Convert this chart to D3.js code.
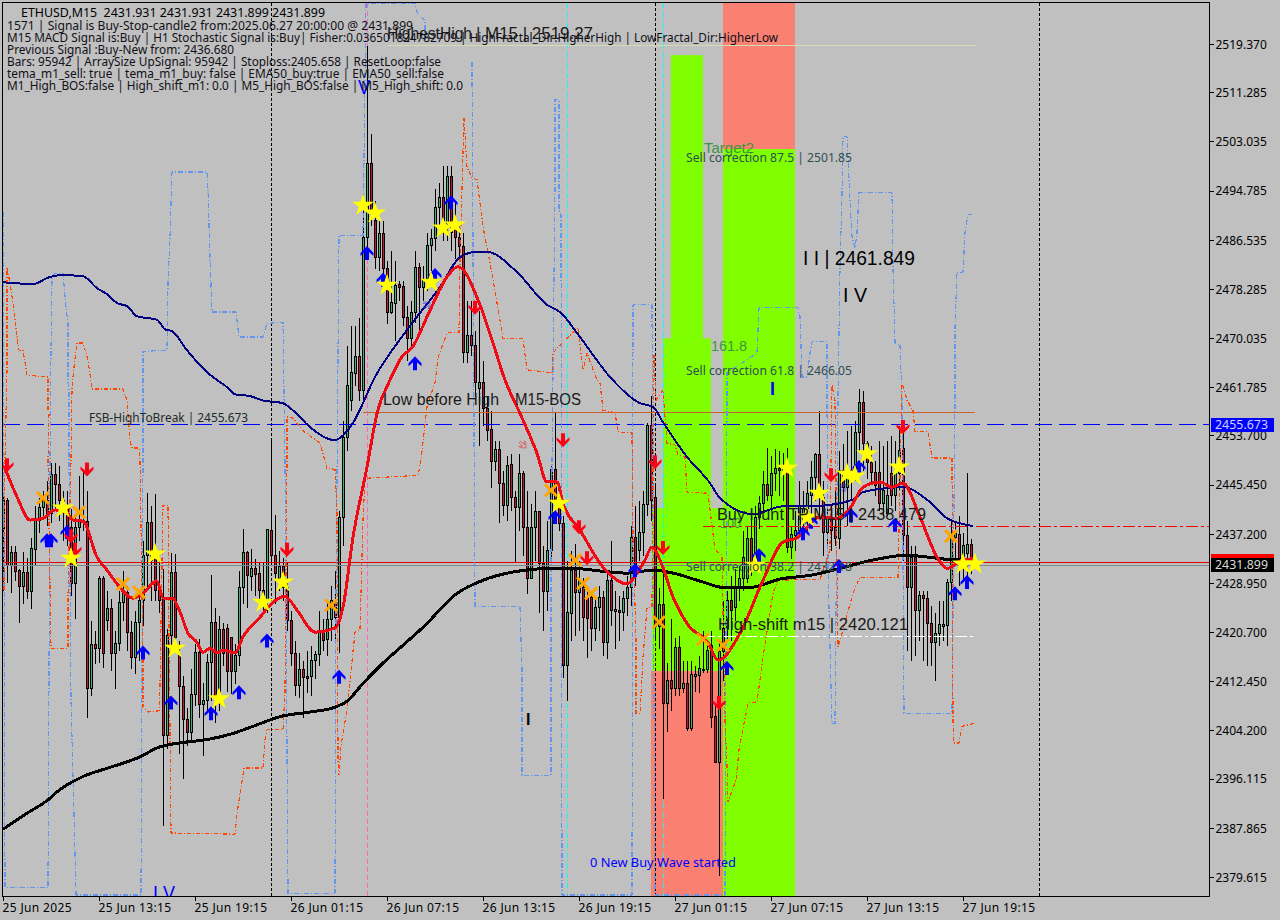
<!DOCTYPE html>
<html>
<head>
<meta charset="utf-8">
<script src="https://cdnjs.cloudflare.com/ajax/libs/d3/7.8.5/d3.min.js"></script>
<style>
html,body{margin:0;padding:0;background:#c0c0c0;overflow:hidden}
svg{display:block}
text{font-family:"Noto Sans",sans-serif;fill:#000;white-space:pre}
</style>
</head>
<body>
<svg id="chart" width="1280" height="920"></svg>
<script>
// ---- data ----
const opens=[2438.2,2442.9,2431.9,2434.1,2431.1,2428.4,2430.8,2427.6,2434.6,2439.5,
2441.7,2442.9,2440.7,2447.2,2445.5,2442.9,2442.0,2438.3,2428.9,2438.3,
2439.5,2439.3,2411.3,2418.7,2418.0,2429.8,2422.7,2424.7,2417.2,2418.8,
2425.7,2427.4,2420.7,2416.5,2422.4,2426.1,2433.6,2439.2,2433.6,2427.7,
2426.4,2403.4,2420.2,2430.8,2416.8,2411.6,2406.1,2403.9,2410.3,2417.3,
2408.6,2409.3,2415.7,2422.4,2409.8,2421.2,2421.4,2419.9,2414.2,2416.8,
2428.2,2434.1,2430.1,2431.4,2430.6,2427.7,2426.1,2437.8,2433.6,2429.8,
2431.8,2428.2,2422.7,2417.2,2411.8,2414.5,2413.3,2413.3,2416.0,2417.0,
2421.0,2419.5,2422.9,2426.1,2423.2,2440.0,2453.4,2459.6,2464.2,2467.0,
2461.3,2487.0,2499.4,2489.8,2483.6,2487.7,2481.8,2474.4,2475.9,2479.1,
2478.8,2473.6,2470.0,2474.4,2482.0,2478.6,2480.1,2485.7,2486.8,2492.0,
2493.7,2489.3,2497.2,2489.3,2487.0,2485.5,2467.7,2470.5,2468.9,2461.7,
2462.7,2458.3,2454.8,2449.4,2451.4,2445.7,2442.0,2448.9,2443.4,2441.7,
2447.4,2438.3,2429.8,2438.3,2441.0,2432.3,2427.6,2434.5,2448.0,2442.5,
2439.0,2415.2,2423.9,2431.1,2427.4,2428.2,2426.6,2426.6,2421.4,2424.9,
2426.6,2419.0,2429.4,2424.2,2424.4,2424.1,2426.4,2428.2,2436.6,2434.5,
2437.5,2442.2,2455.4,2443.4,2421.7,2425.4,2408.8,2412.6,2411.3,2418.2,
2411.3,2412.1,2404.6,2413.3,2413.5,2414.3,2414.5,2418.5,2406.6,2398.9,
2417.5,2421.4,2426.1,2424.9,2428.2,2429.8,2429.8,2436.5,2432.8,2440.0,
2442.3,2445.5,2443.7,2447.4,2448.2,2448.2,2447.9,2435.0,2437.0,2437.8,
2439.5,2441.5,2443.7,2446.7,2450.6,2443.4,2437.5,2440.0,2438.3,2436.5,
2447.9,2445.0,2447.9,2447.9,2454.3,2459.3,2452.4,2449.2,2447.5,2447.5,
2442.3,2440.7,2447.4,2443.7,2447.4,2451.6,2437.0,2428.2,2433.3,2424.4,
2426.9,2426.4,2422.2,2419.0,2420.5,2421.7,2421.9,2429.1,2436.6,2437.1,
2433.1,2434.0,2435.5,2431.931];
const closes=[2442.9,2431.9,2434.1,2430.9,2428.4,2430.8,2427.6,2434.8,2439.5,2441.7,
2442.9,2440.7,2447.2,2445.5,2442.9,2441.2,2438.3,2428.9,2438.3,2439.5,
2439.2,2411.3,2418.7,2418.0,2429.8,2417.2,2424.7,2417.2,2418.8,2425.7,
2427.4,2420.7,2416.5,2422.4,2426.1,2433.6,2439.2,2432.8,2427.7,2426.1,
2403.4,2420.2,2430.8,2419.9,2411.6,2406.1,2403.9,2410.3,2417.3,2408.6,
2409.3,2415.7,2422.4,2409.8,2421.2,2417.2,2414.2,2414.2,2416.8,2428.2,
2434.1,2430.3,2431.4,2430.4,2427.7,2426.1,2438.0,2433.6,2430.6,2431.8,
2428.2,2422.7,2417.2,2411.8,2414.5,2413.2,2413.0,2416.0,2417.0,2421.0,
2419.3,2422.9,2426.1,2423.2,2440.0,2453.4,2462.1,2464.3,2467.0,2461.3,
2487.0,2499.4,2491.0,2483.6,2487.7,2481.8,2474.4,2476.1,2478.9,2478.6,
2473.6,2470.0,2474.4,2482.0,2478.6,2479.8,2485.7,2486.8,2492.0,2493.7,
2489.3,2497.2,2487.8,2487.0,2485.5,2467.7,2470.5,2468.9,2462.7,2462.7,
2458.3,2454.6,2449.4,2451.4,2445.7,2442.0,2448.7,2443.4,2441.7,2447.4,
2438.3,2429.8,2438.3,2441.0,2432.3,2427.6,2434.5,2448.0,2442.5,2439.0,
2415.2,2424.1,2431.1,2427.4,2429.4,2423.2,2423.1,2421.4,2424.9,2426.6,
2419.0,2429.4,2424.4,2424.6,2424.1,2426.4,2428.2,2436.6,2431.4,2437.5,
2442.2,2455.4,2442.9,2421.7,2425.4,2408.8,2412.6,2411.3,2418.2,2411.3,
2412.1,2404.6,2413.6,2413.6,2414.7,2414.5,2417.7,2406.4,2398.9,2417.5,
2421.4,2426.1,2424.4,2428.2,2429.8,2433.3,2436.5,2432.4,2440.0,2442.3,
2445.5,2443.7,2447.4,2448.2,2447.9,2447.9,2435.0,2437.2,2437.8,2442.0,
2441.5,2444.0,2446.7,2450.6,2443.4,2437.5,2440.0,2437.8,2436.5,2447.9,
2445.0,2447.5,2446.2,2454.3,2459.3,2452.4,2449.2,2447.5,2445.4,2442.3,
2444.5,2443.7,2443.7,2447.5,2451.2,2437.0,2428.2,2433.3,2424.4,2426.9,
2426.4,2422.2,2419.0,2420.5,2422.0,2422.0,2429.1,2436.6,2437.3,2433.1,
2435.3,2435.5,2433.0,2431.899];
const highs=[2443.7,2443.4,2435.3,2435.3,2431.4,2434.3,2433.3,2436.6,2442.0,2443.4,
2444.5,2446.2,2449.2,2449.2,2448.7,2444.5,2444.5,2441.5,2440.3,2447.0,
2447.9,2444.5,2422.7,2421.0,2430.3,2430.3,2427.7,2426.4,2421.0,2427.7,
2431.1,2428.6,2422.7,2424.4,2427.7,2436.1,2444.2,2442.0,2444.0,2432.8,
2431.4,2421.4,2434.1,2434.0,2419.3,2413.5,2408.1,2414.7,2418.8,2419.7,
2412.3,2417.2,2430.4,2424.9,2423.5,2422.4,2422.2,2419.9,2418.8,2431.1,
2438.1,2434.5,2434.8,2433.1,2432.4,2432.4,2438.1,2452.9,2440.5,2434.5,
2433.3,2432.4,2424.4,2419.3,2417.3,2416.0,2417.7,2418.5,2417.7,2424.4,
2423.1,2426.1,2428.6,2431.1,2441.2,2456.3,2468.9,2472.2,2472.2,2473.6,
2491.5,2519.2,2504.4,2493.2,2489.8,2489.8,2483.1,2484.8,2483.1,2479.8,
2479.8,2475.6,2476.4,2484.8,2482.8,2482.3,2487.8,2488.5,2495.2,2496.2,
2499.1,2499.1,2499.1,2493.2,2489.3,2487.8,2476.4,2476.4,2471.4,2474.7,
2466.3,2460.5,2457.9,2452.9,2452.9,2447.9,2450.4,2450.7,2444.5,2450.7,
2447.9,2444.5,2442.3,2444.5,2441.2,2435.3,2439.5,2448.7,2457.6,2443.4,
2440.3,2432.8,2434.5,2435.6,2432.8,2429.9,2428.6,2427.7,2426.9,2428.6,
2427.7,2431.1,2436.1,2427.7,2426.9,2427.7,2430.3,2438.7,2442.0,2442.9,
2444.5,2455.9,2460.5,2445.4,2428.2,2431.1,2415.7,2423.1,2419.9,2420.2,
2416.0,2416.0,2416.0,2415.2,2416.8,2421.0,2419.3,2421.0,2408.4,2419.3,
2426.1,2427.7,2430.3,2431.4,2431.9,2437.8,2438.7,2441.2,2442.0,2443.7,
2447.9,2451.7,2450.4,2451.6,2451.2,2450.9,2451.7,2438.7,2441.2,2446.2,
2444.5,2446.2,2449.6,2450.9,2457.9,2446.2,2442.0,2442.0,2444.5,2451.2,
2452.4,2454.6,2455.4,2456.3,2461.6,2461.3,2452.9,2452.1,2449.6,2452.9,
2452.1,2452.9,2453.8,2452.9,2455.4,2456.3,2439.5,2435.3,2435.3,2427.7,
2427.7,2427.7,2425.2,2424.1,2426.1,2426.1,2429.8,2439.5,2439.5,2440.3,
2437.5,2447.5,2436.5,2431.931];
const lows=[2427.7,2429.1,2427.4,2429.4,2422.4,2425.6,2426.4,2424.7,2431.9,2437.5,
2440.0,2438.7,2439.2,2441.2,2439.5,2436.1,2435.3,2426.9,2423.1,2436.1,
2437.8,2406.4,2410.1,2415.5,2415.7,2414.8,2421.0,2414.3,2411.3,2417.7,
2422.7,2417.7,2414.7,2413.8,2416.0,2421.9,2427.7,2426.1,2426.1,2424.1,
2388.3,2401.2,2418.5,2417.7,2400.4,2396.2,2401.7,2402.6,2408.4,2406.4,
2400.1,2407.6,2409.3,2405.6,2407.6,2415.2,2410.9,2410.5,2412.2,2415.2,
2425.6,2424.9,2427.7,2426.9,2425.6,2424.4,2424.1,2431.9,2425.6,2427.7,
2426.1,2421.0,2415.2,2410.1,2409.8,2406.4,2410.6,2410.1,2413.0,2415.2,
2417.7,2416.8,2419.3,2419.3,2417.3,2435.3,2451.2,2457.9,2462.1,2459.6,
2459.6,2484.8,2489.0,2481.8,2481.4,2479.8,2472.5,2474.2,2469.7,2476.4,
2472.2,2466.3,2468.9,2472.7,2471.4,2476.4,2478.1,2481.4,2484.8,2488.2,
2486.5,2486.5,2484.8,2483.5,2483.1,2466.0,2466.0,2467.2,2460.5,2452.1,
2455.4,2452.9,2445.0,2447.9,2439.2,2440.3,2439.5,2441.2,2432.6,2437.8,
2433.6,2427.2,2429.8,2432.8,2424.1,2421.0,2424.4,2432.8,2441.2,2437.8,
2413.2,2409.3,2419.3,2420.2,2421.0,2419.3,2416.5,2417.7,2419.3,2421.0,
2416.8,2416.3,2421.9,2418.0,2419.3,2421.0,2423.5,2425.2,2428.6,2432.8,
2433.6,2440.3,2439.5,2419.3,2418.0,2392.8,2404.1,2407.6,2410.1,2410.1,
2410.6,2404.2,2404.2,2410.9,2410.6,2414.0,2414.0,2404.8,2398.9,2379.9,
2412.6,2419.3,2419.3,2422.7,2426.1,2427.7,2429.1,2430.3,2431.9,2438.2,
2441.2,2442.9,2441.2,2444.5,2443.7,2442.9,2434.1,2433.1,2434.5,2437.0,
2437.0,2437.8,2439.5,2442.9,2440.3,2433.6,2435.3,2434.5,2435.3,2434.8,
2440.3,2438.7,2442.9,2446.2,2451.2,2447.9,2446.5,2445.9,2443.7,2441.2,
2440.3,2440.3,2442.0,2441.2,2444.5,2432.8,2417.7,2416.0,2416.8,2419.3,
2416.0,2415.2,2415.2,2412.6,2418.5,2419.3,2418.5,2426.1,2431.9,2428.6,
2429.4,2430.3,2430.6,2431.899];

// [bar, price] vertices of the indicator lines
const ema200=[[0,2387.6],[5.25,2390.0],[11.5,2392.7],[13.5,2393.9],[19.75,2396.4],[26.75,2398.0],[34,2399.7],[39,2401.4],[45.25,2402.2],[51.25,2402.7],[57.5,2403.7],[62.5,2404.9],[69.75,2406.6],[76.75,2407.3],[83,2408.1],[86,2409.1],[90,2412.1],[95,2415.5],[100,2418.5],[105,2421.5],[113.5,2427.2],[120,2429.4],[128.5,2430.9],[137.5,2431.4],[142.5,2431.4],[150,2430.9],[156,2430.6],[162.5,2431.1],[167.5,2430.6],[175,2429.1],[180,2428.2],[186.75,2428.2],[194.25,2429.6],[202.5,2430.3],[209.25,2431.4],[217.5,2432.8],[226,2433.6],[231,2433.3],[238.5,2432.8],[242.5,2432.8]];
const ema50=[[0,2479.4],[7.5,2479.1],[11.75,2480.3],[15,2480.6],[20,2480.4],[23.5,2478.4],[26,2477.4],[28.5,2475.9],[31,2475.4],[33.5,2473.7],[38.5,2473.1],[40.5,2471.5],[42.25,2471.2],[46,2468.0],[51,2464.3],[53.5,2463.0],[56,2461.8],[58,2460.6],[61.75,2460.3],[64.75,2459.6],[70,2459.1],[72.5,2457.9],[76.75,2455.1],[83,2452.9],[85,2453.7],[87.5,2455.8],[93,2463.5],[101,2471.4],[109.25,2478.6],[114.25,2483.6],[118.5,2484.5],[121,2484.5],[128.5,2481.1],[136,2475.6],[139.25,2474.4],[144.25,2470.2],[151.75,2463.5],[159.25,2459.1],[162.5,2458.5],[165,2455.9],[171,2450.1],[176.75,2445.7],[179.25,2443.2],[187.5,2440.5],[195,2441.8],[201.75,2441.8],[212.5,2442.9],[215,2444.2],[225,2445.0],[231.75,2442.5],[236,2439.8],[242.5,2438.5]];
const tema=[[0.5,2448.2],[3.5,2443.4],[6.75,2439.5],[10,2439.8],[13,2441.2],[16,2440.7],[17.5,2439.5],[20,2439.3],[23.5,2433.3],[26,2431.1],[28.75,2428.6],[32.5,2426.4],[35,2427.2],[38.5,2429.3],[40,2426.4],[42.25,2426.4],[44.25,2424.1],[46.25,2420.5],[48.5,2419.0],[50,2417.3],[51.75,2418.0],[53.5,2417.2],[55,2417.7],[58,2417.2],[60,2419.9],[64.25,2423.2],[66.75,2425.2],[70.5,2426.7],[73.5,2424.4],[78,2420.7],[83,2421.4],[85,2424.9],[87.5,2436.6],[91,2448.4],[93.5,2457.4],[96.75,2463.0],[99.75,2466.9],[102.25,2468.4],[106.75,2474.7],[111,2480.3],[113.75,2482.0],[119.25,2475.6],[122.5,2469.2],[125.5,2463.0],[129.25,2457.4],[133.5,2450.7],[136,2445.9],[138.5,2445.9],[140,2442.3],[144.25,2437.8],[150,2431.6],[156,2428.8],[158.5,2430.6],[160.5,2432.8],[162.25,2435.0],[164.25,2432.8],[167.5,2426.6],[171.25,2421.9],[176.25,2418.9],[178.75,2416.0],[184.25,2420.5],[190,2429.4],[195,2435.8],[198.5,2436.5],[204.25,2440.0],[208.5,2439.8],[211.75,2441.5],[215,2445.0],[219.25,2445.9],[222.25,2445.0],[225,2445.7],[229.25,2440.0],[233.5,2433.3],[236,2431.4],[240,2432.8],[242.5,2433.0]];
const bandBlue=[[0,2491.2],[0.5,2377.9],[11.25,2377.9],[11.75,2449.6],[12,2468.0],[12.25,2480.3],[13,2480.9],[15,2480.9],[15.75,2475.2],[16.25,2472.5],[16.25,2462.5],[16.5,2461.8],[16.5,2449.6],[17,2409.3],[18,2383.6],[18.25,2376.6],[34.5,2376.6],[35,2449.6],[35,2467.8],[41,2468.0],[41.25,2479.3],[41.75,2486.8],[42.25,2497.9],[51,2497.9],[51.25,2494.9],[51.75,2483.5],[52.25,2474.4],[58.25,2474.4],[59,2470.2],[65,2470.2],[66,2472.5],[70,2472.7],[70.25,2460.8],[70.5,2449.6],[71.25,2376.9],[83,2376.9],[83.25,2426.1],[84,2487.2],[90,2487.2],[90.5,2513.3],[90.75,2526.2],[103,2526.2],[103.75,2524.2],[105.5,2523.4],[105.5,2520.0],null,
[117.25,2516.3],[117.25,2515.0],[118,2425.0],[129.25,2425.0],[129.75,2414.3],[129.75,2396.7],[137,2396.7],[137,2432.8],[138,2495.7],[138,2510.0],[139,2510.0],[139,2491.5],[139.5,2490.7],[139.75,2376.6],[157.25,2376.6],[157.5,2475.6],[162.25,2475.6],[163,2376.6],[180.5,2376.6],[181,2459.6],[181,2464.2],[188.5,2467.5],[189,2475.1],[198.75,2475.1],[199.25,2473.6],[199.75,2463.5],[201,2463.5],[201.75,2467.5],[202.25,2469.4],[206,2469.4],[206,2460.1],[206.25,2431.1],[207.25,2405.4],[208,2405.4],[208.75,2460.1],[209.25,2481.9],[209.75,2494.4],[210,2503.8],[211,2503.8],[211.75,2493.2],[212.25,2487.0],[213,2485.1],[213.5,2487.7],[214,2494.4],[222.25,2494.4],[222.5,2481.9],[223,2469.2],[224.25,2468.9],[224.75,2459.6],[225.25,2407.1],[237.25,2407.1],[238,2459.6],[238,2471.7],[238.5,2481.1],[240,2481.1],[240.5,2487.7],[241.25,2490.7],[242.5,2490.8]];
const bandOrange=[[0.25,2427.7],[0.5,2449.6],[1,2464.8],[1,2481.9],[1.75,2479.2],[2.5,2475.9],[3.5,2470.2],[4,2468.0],[5,2468.0],[6,2463.8],[11.25,2463.5],[11.25,2457.9],[11.5,2457.6],[11.25,2449.6],[12,2418.0],[16.25,2418.0],[16.25,2426.6],[17,2449.6],[17.25,2461.8],[17.75,2465.2],[18.5,2469.2],[20,2469.2],[21.25,2466.3],[22.25,2461.5],[30,2461.5],[31,2459.6],[31.75,2452.9],[32.25,2451.6],[34,2451.6],[34.25,2449.6],[35,2416.0],[35,2408.1],[36.25,2407.3],[39,2407.5],[39.25,2411.8],[40,2442.0],[41.25,2442.0],[41.5,2421.0],[42,2387.0],[58,2386.8],[58.5,2390.3],[59.5,2394.5],[60.25,2397.9],[65,2397.9],[65.5,2402.6],[66,2404.3],[70,2404.3],[70.5,2410.5],[71,2449.6],[71,2456.8],[72.5,2456.6],[74.75,2454.6],[79.25,2452.4],[81,2448.2],[83,2448.0],[83.5,2441.2],[83.75,2399.2],[84,2396.7],[84.5,2401.7],[86,2407.6],[86.25,2409.3],[88,2420.7],[89.25,2421.0],[90,2439.5],[90.5,2446.5],[103.75,2447.0],[104.5,2449.6],[106,2458.5],[108,2462.5],[108.75,2466.7],[111,2470.9],[114,2471.0],[114.25,2483.1],[115.25,2506.9],[116,2498.7],[117.25,2496.9],[118.5,2496.6],[120,2488.7],[122.25,2480.9],[125,2470.0],[130,2469.9],[131,2464.7],[137.25,2464.2],[137.5,2467.5],[140,2469.4],[143.75,2471.7],[145,2464.7],[146,2467.5],[148.5,2463.0],[149.25,2462.5],[150,2457.9],[153,2457.5],[153.75,2454.3],[157.25,2454.1],[157.5,2436.6],[158.25,2419.3],[158.25,2407.1],[159.25,2407.1],[160,2416.5],[161,2424.7],[162.25,2424.9],[162.75,2467.2],[163.25,2459.6],[165,2461.3],[166,2452.4],[168,2452.1],[168.75,2450.4],[170.5,2450.1],[171,2444.2],[176.25,2444.0],[178,2434.5],[179.75,2433.6],[180.5,2405.9],[181,2398.4],[181.25,2392.2],[183.25,2395.9],[184,2400.9],[186.25,2408.8],[188.5,2409.0],[190,2416.5],[192.5,2427.2],[193.75,2429.4],[204.25,2429.6],[206.75,2434.5],[207.25,2462.1],[208,2459.6],[208.75,2418.2],[209.25,2419.3],[212.5,2427.2],[214.25,2429.9],[223.75,2429.9],[224.75,2462.5],[226,2459.6],[227.5,2457.9],[228,2454.3],[231.25,2454.3],[232.25,2449.9],[237.25,2449.9],[237.5,2405.9],[237.75,2402.1],[239,2402.1],[239.75,2404.9],[243,2405.4]];

// signal marks: bar indices and prices
const upBars=[11,12,16,35,42,52,59,66,84,91,95,103,108,112,138,158,181,189,200,202,209,212,214,223,238,241];
const upPrices=[2436.1,2436.1,2437.5,2417.3,2408.9,2407.1,2410.6,2419.3,2413.2,2484.3,2479.8,2465.8,2480.6,2492.8,2440.0,2431.1,2414.7,2433.6,2437.3,2439.2,2431.8,2440.3,2448.4,2438.7,2427.2,2429.1];
const downBars=[1,21,17,18,71,118,140,144,146,163,165,179,207,225];
const downPrices=[2448.7,2448.0,2436.8,2434.5,2434.5,2475.1,2452.9,2438.3,2433.1,2449.2,2434.8,2408.8,2447.0,2455.1];
const starBars=[15,17,38,43,54,65,70,90,93,96,107,110,113,139,188,196,201,204,211,213,216,224,240,243];
const starPrices=[2441.5,2433.1,2433.8,2418.0,2409.5,2425.7,2429.1,2492.3,2491.0,2478.9,2479.4,2488.5,2489.0,2442.3,2431.9,2448.2,2440.0,2444.0,2447.2,2446.9,2450.6,2448.4,2432.1,2432.1];
const crossBars=[10,19,30,34,82,137,143,145,147,164,175,180,237];
const crossPrices=[2443.2,2440.8,2428.8,2427.4,2425.2,2444.5,2432.8,2428.9,2427.2,2422.4,2419.5,2418.5,2436.8];
const hollowBars=[130,106,210];
const hollowPrices=[2452.1,2475.6,2444.9];

// zones: [bar from, bar to, price from, price to]
const greenZones=[[167,175,2467.5,2517.5],[165,177,2436,2470],[162.25,198,2414.2,2441.5],[180,198,2376,2501.75]];
const salmonZones=[[162,180,2376,2414.2],[180,198,2501.75,2526.5]];

const priceTicks=[2519.370,2511.285,2503.035,2494.785,2486.535,2478.285,2470.035,2461.785,2453.700,2445.450,2437.200,2428.950,2420.700,2412.450,2404.200,2396.115,2387.865,2379.615];
const timeTickBars=[0,24,48,72,96,120,144,168,192,216,240];
const timeLabels=["25 Jun 2025","25 Jun 13:15","25 Jun 19:15","26 Jun 01:15","26 Jun 07:15","26 Jun 13:15","26 Jun 19:15","27 Jun 01:15","27 Jun 07:15","27 Jun 13:15","27 Jun 19:15"];
const infoLines=["1571 | Signal is Buy-Stop-candle2 from:2025.06.27 20:00:00 @ 2431.899",
"M15 MACD Signal is:Buy | H1 Stochastic Signal is:Buy| Fisher:0.036501824782709 | HighFractal_Dir:HigherHigh | LowFractal_Dir:HigherLow",
"Previous Signal :Buy-New from: 2436.680",
"Bars: 95942 | ArraySize UpSignal: 95942 | Stoploss:2405.658 | ResetLoop:false",
"tema_m1_sell: true | tema_m1_buy: false | EMA50_buy:true | EMA50_sell:false",
"M1_High_BOS:false | High_shift_m1: 0.0 | M5_High_BOS:false | M5_High_shift: 0.0"];
const infoEnds=[413,778,234,441,444,463];

// ---- drawing ----
const svg=d3.select("#chart");
const L=2.5,R=1209.5,T=2.5,B=896.5;
const x=d3.scaleLinear().domain([0,243]).range([3,975]);
const y=d3.scaleLinear().domain([2379.615,2519.37]).range([877,44]);
const pxX=v=>Math.round(x(v))+0.5, pxY=v=>Math.round(y(v))+0.5;

svg.append("rect").attr("width",1280).attr("height",920).attr("fill","#c0c0c0");
svg.append("defs").append("clipPath").attr("id","plot").append("rect").attr("x",L).attr("y",T).attr("width",R-L).attr("height",B-T);
const plot=svg.append("g").attr("clip-path","url(#plot)");

// zones
const zone=(list,color)=>plot.append("g").selectAll("rect").data(list).join("rect")
  .attr("x",d=>x(d[0])).attr("width",d=>x(d[1])-x(d[0]))
  .attr("y",d=>y(d[3])).attr("height",d=>y(d[2])-y(d[3])).attr("fill",color);
zone(salmonZones,"#fa8072");
zone(greenZones,"#7fff00");

// vertical markers
const vline=(bar,color,dash)=>plot.append("line").attr("x1",x(bar)+.5).attr("x2",x(bar)+.5).attr("y1",T).attr("y2",B)
  .attr("stroke",color).attr("stroke-dasharray",dash).attr("shape-rendering","crispEdges");
vline(67,"#000","3 2");vline(163,"#000","3 2");vline(259,"#000","3 2");
vline(91,"#ff69b4","5 3");vline(141,"#00ffff","5 2 1 2");vline(165,"#00ffff","5 2 1 2");

// candles
const idx=d3.range(opens.length);
const candles=plot.append("g").attr("shape-rendering","crispEdges");
candles.selectAll("line").data(idx).join("line")
  .attr("x1",i=>pxX(i)).attr("x2",i=>pxX(i)).attr("y1",i=>pxY(highs[i])).attr("y2",i=>pxY(lows[i])).attr("stroke","#000");
candles.selectAll("rect").data(idx).join("rect")
  .attr("x",i=>pxX(i)-1).attr("width",2)
  .attr("y",i=>pxY(Math.max(opens[i],closes[i])))
  .attr("height",i=>Math.max(0,pxY(Math.min(opens[i],closes[i]))-pxY(Math.max(opens[i],closes[i]))))
  .attr("fill",i=>closes[i]>=opens[i]?"#3cb371":"#c8143c").attr("stroke","#000");

// horizontal levels
const hline=(price,x1,x2,color,dash,w)=>plot.append("line").attr("x1",x1).attr("x2",x2).attr("y1",pxY(price)).attr("y2",pxY(price))
  .attr("stroke",color).attr("stroke-dasharray",dash||null).attr("stroke-width",w||1).attr("shape-rendering","crispEdges");
hline(2519.27,388,976,"#d4dcb4");
hline(2457.7,363,975,"#c86030");
hline(2455.673,L,R,"#0000ff","17 7");
hline(2438.479,703,R,"#ff0000","12 3 3 3");
hline(2420.121,703,975,"#ffffff","12 3 3 3");
hline(2432.5,L,R,"#e00000");
hline(2431.899,L,R,"#808890");

// bands
const lineGen=d3.line().defined(d=>d).x(d=>x(d[0])).y(d=>y(d[1]));
const smoothGen=d3.line().curve(d3.curveMonotoneX).x(d=>x(d[0])).y(d=>y(d[1]));
const drawLine=(data,color,w,dash,gen)=>plot.append("path").datum(data).attr("d",gen||lineGen).attr("fill","none")
  .attr("stroke",color).attr("stroke-width",w).attr("stroke-dasharray",dash||null).attr("stroke-linejoin","round").attr("shape-rendering","crispEdges");
drawLine(bandBlue,"#6495ed",1.2,"5 2 1 2");
drawLine(bandOrange,"#ff4500",1.2,"4 2 1 2");
drawLine(ema200,"#000",3,null,smoothGen);
drawLine(ema50,"#000080",2,null,smoothGen);
drawLine(tema,"#f00a14",3,null,smoothGen);

// marks
const arrowPath="M0,-7L6.5,0L6.5,3L2,-1L2,7L-2,7L-2,-1L-6.5,3L-6.5,0Z";
const mark=plot.append("g");
mark.selectAll(".up").data(upBars).join("path").attr("class","up").attr("d",arrowPath).attr("fill","#0000ff")
  .attr("transform",(d,i)=>`translate(${x(d)},${y(upPrices[i])})`);
mark.selectAll(".down").data(downBars).join("path").attr("class","down").attr("d",arrowPath).attr("fill","#ff0014")
  .attr("transform",(d,i)=>`translate(${x(d)},${y(downPrices[i])}) scale(1,-1)`);
mark.selectAll(".cross").data(crossBars).join("path").attr("class","cross").attr("d","M-6,-6L6,6M-6,6L6,-6")
  .attr("fill","none").attr("stroke","#ffa500").attr("stroke-width",3)
  .attr("transform",(d,i)=>`translate(${x(d)},${y(crossPrices[i])})`);
mark.selectAll(".star").data(starBars).join("path").attr("class","star").attr("d",d3.symbol(d3.symbolStar).size(150)).attr("fill","#ffff00")
  .attr("transform",(d,i)=>`translate(${x(d)},${y(starPrices[i])})`);
mark.selectAll(".hollow").data(hollowBars).join("path").attr("class","hollow").attr("d",arrowPath).attr("fill","none")
  .attr("stroke",(d,i)=>i==0?"#e83030":"#4040e0")
  .attr("transform",(d,i)=>`translate(${x(d)},${y(hollowPrices[i])}) rotate(${i==0?135:45}) scale(.6)`);

// chart texts
const note=(s,tx,ty,size,color,end,fam,weight,g)=>{
  const t=(g||svg).append("text").attr("x",tx).attr("y",ty+2).attr("dominant-baseline","middle")
    .attr("font-size",size).style("fill",color||"#000").text(s);
  if(end) t.attr("textLength",end-tx).attr("lengthAdjust","spacingAndGlyphs");
  if(fam) t.style("font-family",fam);
  if(weight) t.style("font-weight",weight);
  return t;
};
const LS='"Liberation Sans",sans-serif';
note("FSB-HighToBreak | 2455.673",89,417,12,"#1c2a2a",248);
note("Low before High",383,399,16,"#1a1a1a",499,LS);
note("M15-BOS",515,399,16,"#1a1a1a",581,LS);
note("HighestHigh",387,33,16,"#1a1a1a",472,LS);
note("| M15 | 2519.27",476,33,16,"#1a1a1a",593,LS);
note("Target2",704,147,14,"#3f9440",754,LS);
note("Sell correction 87.5 | 2501.85",686,157,12,"#2f4f4f",852);
note("161.8",711,345,14,"#3f9440",747,LS);
note("Sell correction 61.8 | 2466.05",686,370,12,"#2f4f4f",852);
note("Sell correction 38.2 | 2432.18",686,566,12,"#2f4f4f",852);
note("I I | 2461.849",803,258,20,"#000",915,LS);
note("I V",843,295,20,"#000",867,LS);
note("I",770,388,18,"#0000ff",null,LS,"bold");
note("V",358,87,20,"#0000ff",370,LS);
note("I V",153,893,20,"#0000ff",175,LS,null,plot);
note("I",526,719,16,"#000",null,LS,"bold");
note("100",720,522,14,"#3f9440",741,LS);
note("Buy Hunt TP M15 | 2438.479",717,514,16,"#1a1a1a",926,LS);
note("High-shift m15 | 2420.121",718,624,16,"#1a1a1a",908,LS);
note("0 New Buy Wave started",590,862,12,"#0000ff",736);

// header
note("ETHUSD,M15  2431.931 2431.931 2431.899 2431.899",21,12,12,"#000",325);
infoLines.forEach((s,i)=>note(s,7,25+12*i,12,"#101018",infoEnds[i]));

// axes
const yAxis=d3.axisRight(y).tickValues(priceTicks).tickFormat(d3.format(".3f")).tickSize(4).tickPadding(3);
const yg=svg.append("g").attr("transform",`translate(${R},0)`).call(yAxis);
yg.select(".domain").remove();
yg.selectAll("text").attr("font-size",12).style("font-family",'"Noto Sans",sans-serif').attr("x",6).attr("dy",".36em");
yg.selectAll("line").attr("shape-rendering","crispEdges");
const xAxis=d3.axisBottom(x).tickValues(timeTickBars).tickFormat((d,i)=>timeLabels[i]).tickSize(4);
const xg=svg.append("g").attr("transform",`translate(0,${B})`).call(xAxis);
xg.select(".domain").remove();
xg.selectAll("text").attr("font-size",12).attr("text-anchor","start").attr("y",7).attr("x",-1).style("letter-spacing","0.35px").style("font-family",'"Noto Sans",sans-serif');
xg.selectAll("line").attr("shape-rendering","crispEdges");

// current price tags
svg.append("rect").attr("x",1211).attr("y",554).attr("width",63).attr("height",5).attr("fill","#ff0000");
svg.append("rect").attr("x",1211).attr("y",558).attr("width",63).attr("height",14).attr("fill","#000");
note("2431.899",1215,563.5,12,"#d8d8d8",1268);
svg.append("rect").attr("x",1211).attr("y",418).attr("width",63).attr("height",14).attr("fill","#0000ff");
note("2455.673",1215,423.5,12,"#d0d0ff",1268);

// frame
svg.append("rect").attr("x",L).attr("y",T).attr("width",R-L).attr("height",B-T).attr("fill","none").attr("stroke","#000").attr("shape-rendering","crispEdges");
</script>
</body>
</html>
